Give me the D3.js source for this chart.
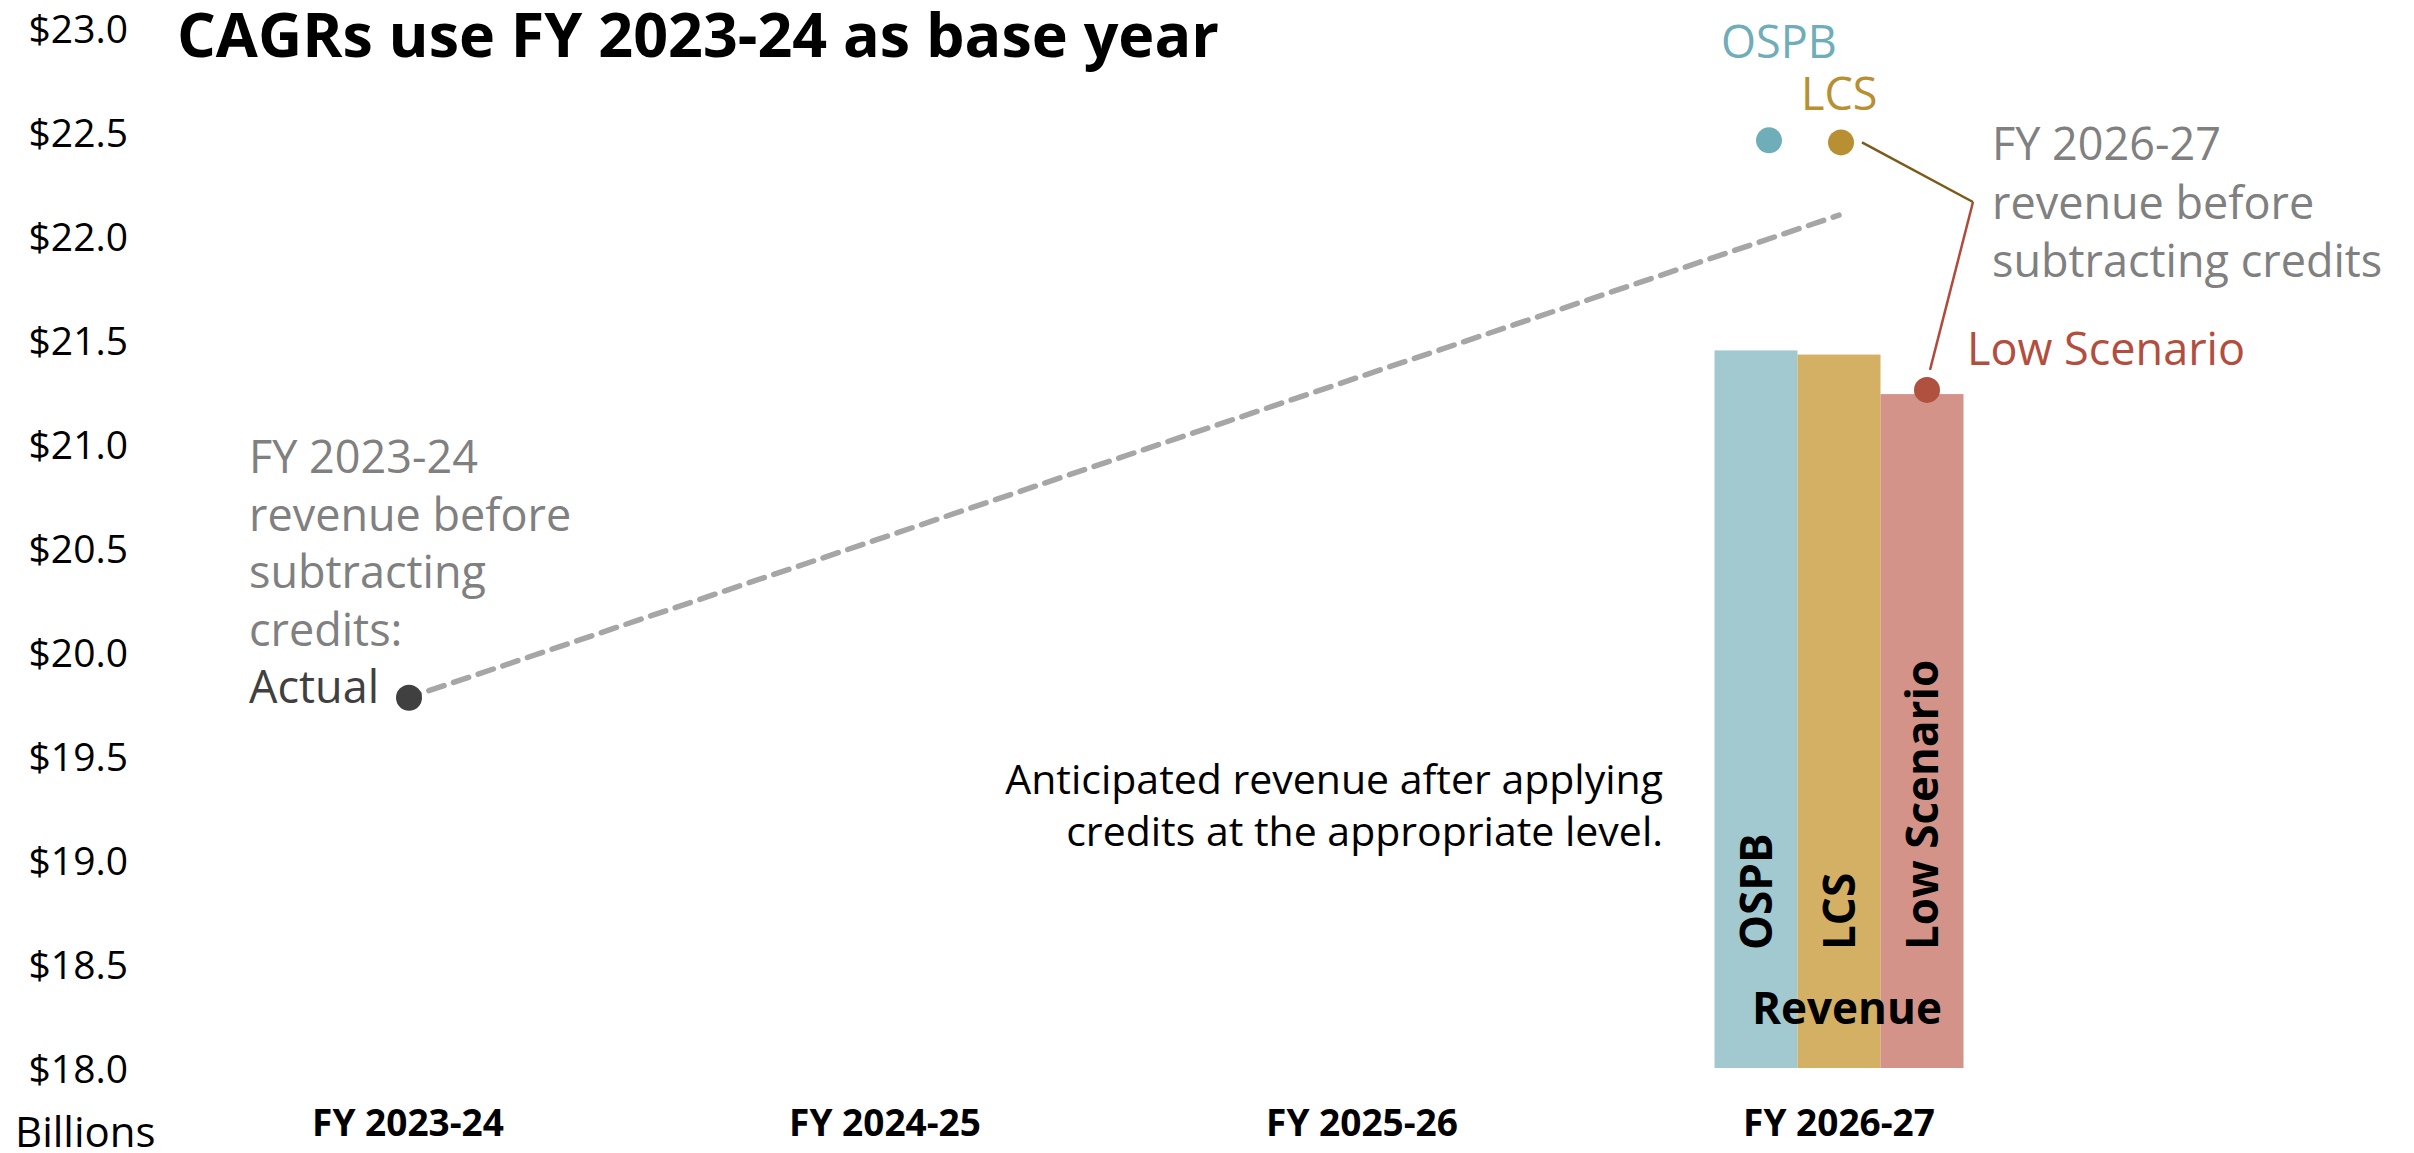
<!DOCTYPE html>
<html>
<head>
<meta charset="utf-8">
<script src="https://cdn.jsdelivr.net/npm/d3@7"></script>
<style>
  html, body { margin: 0; padding: 0; background: #ffffff; }
  svg { display: block; font-family: "Open Sans", "Noto Sans", sans-serif; }
</style>
</head>
<body>
<svg id="chart" width="2414" height="1153"></svg>
<script>
// ---- data ----
const fiscalYears = ["FY 2023-24", "FY 2024-25", "FY 2025-26", "FY 2026-27"];
const yTicks = [18.0, 18.5, 19.0, 19.5, 20.0, 20.5, 21.0, 21.5, 22.0, 22.5, 23.0];
const scenarios = ["OSPB", "LCS", "Low Scenario"];
// revenue after applying credits, FY 2026-27 ($ billions)
const revenueAfterCredits = [21.45, 21.43, 21.24];
// revenue before subtracting credits, FY 2026-27 ($ billions)
const revenueBeforeCredits = [22.46, 22.45, 21.26];
// FY 2023-24 actual revenue before subtracting credits
const actualBase = 19.78;
// growth path from the base year to FY 2026-27
const growthPath = [
  { year: "FY 2023-24", value: 19.78 },
  { year: "FY 2026-27", value: 22.10 }
];

// ---- styling ----
const barColors = ["#a2c8d0", "#d4b064", "#d49388"];
const dotColors = ["#6fadb9", "#b88f33", "#b0503f"];
const labelColors = ["#6fadb9", "#b88f33", "#b34e3f"];
const grey = "#808080";

const svg = d3.select("#chart");

// ---- scales ----
const x = d3.scaleBand().domain(fiscalYears).range([169.5, 2077.5]).padding(0);
const cx = d => x(d) + x.bandwidth() / 2;
const y = d3.scaleLinear().domain([18, 23]).range([1068, 28]);
const xs = d3.scaleBand().domain(scenarios).range([-124.5, 124.5]).padding(0);

// ---- y axis ----
const yAxis = svg.append("g")
  .attr("transform", "translate(128,0)")
  .call(d3.axisLeft(y).tickValues(yTicks).tickFormat(d3.format("$.1f")).tickSize(0).tickPadding(0));
yAxis.select(".domain").remove();
yAxis.selectAll("text")
  .attr("font-family", "Open Sans")
  .attr("font-size", 39)
  .attr("fill", "#000")
  .attr("dy", "0.36em");

svg.append("text")
  .attr("x", 15).attr("y", 1147)
  .attr("font-size", 42).attr("fill", "#000")
  .text("Billions");

// ---- x axis ----
const xAxis = svg.append("g")
  .attr("transform", "translate(0,1136)")
  .call(d3.axisBottom(x).tickSize(0).tickPadding(0));
xAxis.select(".domain").remove();
xAxis.selectAll("text")
  .attr("font-family", "Open Sans")
  .attr("font-size", 37)
  .attr("font-weight", "bold")
  .attr("fill", "#000")
  .attr("y", 0).attr("dy", null);

// ---- title ----
svg.append("text")
  .attr("x", 177).attr("y", 57)
  .attr("font-size", 61).attr("font-weight", "bold").attr("fill", "#000")
  .text("CAGRs use FY 2023-24 as base year");

// ---- revenue bars FY 2026-27 ----
const lastYear = fiscalYears[3];
const barG = svg.append("g").attr("transform", `translate(${cx(lastYear)},0)`);
barG.selectAll("rect")
  .data(scenarios)
  .join("rect")
  .attr("x", d => xs(d))
  .attr("width", xs.bandwidth())
  .attr("y", (d, i) => y(revenueAfterCredits[i]))
  .attr("height", (d, i) => y(18) - y(revenueAfterCredits[i]))
  .attr("fill", (d, i) => barColors[i]);

// rotated scenario names inside bars
barG.selectAll("text.barlabel")
  .data(scenarios)
  .join("text")
  .attr("class", "barlabel")
  .attr("transform", d => `translate(${xs(d) + xs.bandwidth() / 2},950) rotate(-90)`)
  .attr("dy", "0.36em")
  .attr("font-size", 44).attr("font-weight", "bold").attr("fill", "#000")
  .text(d => d);

barG.append("text")
  .attr("x", 8).attr("y", 1024)
  .attr("text-anchor", "middle")
  .attr("font-size", 44).attr("font-weight", "bold").attr("fill", "#000")
  .text("Revenue");

// ---- growth path (dashed) ----
svg.append("path")
  .datum(growthPath)
  .attr("d", d3.line().x(d => cx(d.year)).y(d => y(d.value)))
  .attr("fill", "none")
  .attr("stroke", "#a6a6a6")
  .attr("stroke-width", 5.5)
  .attr("stroke-dasharray", "16 10")
  .attr("stroke-dashoffset", -22)
  .attr("stroke-linecap", "round");

// ---- base-year actual point ----
svg.append("circle")
  .attr("cx", cx(fiscalYears[0]) + 1).attr("cy", y(actualBase))
  .attr("r", 13).attr("fill", "#404040");

const leftNote = svg.append("text")
  .attr("font-size", 45).attr("fill", grey);
["FY 2023-24", "revenue before", "subtracting", "credits:"].forEach((t, i) => {
  leftNote.append("tspan").attr("x", 249).attr("y", 473 + i * 57.5).text(t);
});
svg.append("text")
  .attr("x", 249).attr("y", 703)
  .attr("font-size", 45).attr("fill", "#404040")
  .text("Actual");

// ---- FY 2026-27 points before credits ----
const dotOffsets = [-70, 2, 88];
const dotX = i => cx(lastYear) + dotOffsets[i];

// leader lines from the LCS and Low Scenario points to the note
const elbow = [1973, 202];
svg.append("line")
  .attr("x1", dotX(1) + 21).attr("y1", y(revenueBeforeCredits[1]))
  .attr("x2", elbow[0]).attr("y2", elbow[1])
  .attr("stroke", "#7b5a1a").attr("stroke-width", 2.5);
svg.append("line")
  .attr("x1", elbow[0]).attr("y1", elbow[1])
  .attr("x2", dotX(2) + 3).attr("y2", y(revenueBeforeCredits[2]) - 20)
  .attr("stroke", "#b04a3c").attr("stroke-width", 2.5);

svg.selectAll("circle.scen")
  .data(scenarios)
  .join("circle")
  .attr("class", "scen")
  .attr("cx", (d, i) => dotX(i))
  .attr("cy", (d, i) => y(revenueBeforeCredits[i]))
  .attr("r", 13)
  .attr("fill", (d, i) => dotColors[i]);

// scenario labels
svg.append("text").attr("x", 1721).attr("y", 58)
  .attr("font-size", 45).attr("fill", labelColors[0]).text("OSPB");
svg.append("text").attr("x", 1801).attr("y", 110)
  .attr("font-size", 45).attr("fill", labelColors[1]).text("LCS");
svg.append("text").attr("x", 1967).attr("y", 365)
  .attr("font-size", 45).attr("fill", labelColors[2]).text("Low Scenario");

const rightNote = svg.append("text")
  .attr("font-size", 45).attr("fill", grey);
["FY 2026-27", "revenue before", "subtracting credits"].forEach((t, i) => {
  rightNote.append("tspan").attr("x", 1992).attr("y", 160 + i * 58.5).text(t);
});

// ---- note on credits ----
const creditNote = svg.append("text")
  .attr("font-size", 41).attr("fill", "#000").attr("text-anchor", "end");
["Anticipated revenue after applying", "credits at the appropriate level."].forEach((t, i) => {
  creditNote.append("tspan").attr("x", 1663).attr("y", 794 + i * 52).text(t);
});
</script>
</body>
</html>
